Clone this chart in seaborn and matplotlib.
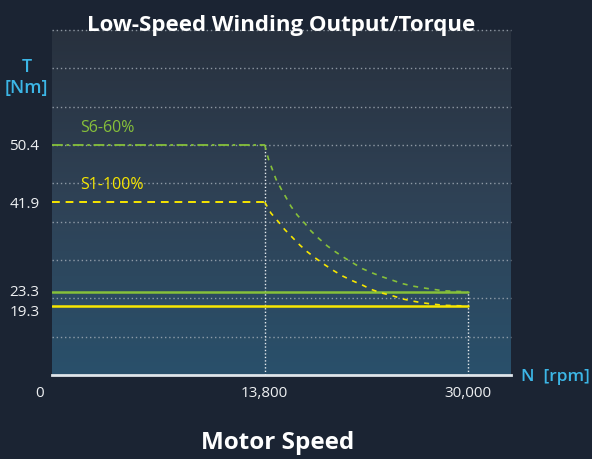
import numpy as np
import matplotlib
matplotlib.use("Agg")
import matplotlib.pyplot as plt
import matplotlib.transforms as mtransforms
from matplotlib.colors import LinearSegmentedColormap
import seaborn as sns

sns.set_theme(style="white")
plt.rcParams['font.family'] = ['Open Sans', 'DejaVu Sans']

# --- data ---
speed_ticks = [0, 13800, 30000]
speed_labels = ['0', '13,800', '30,000']
torque_ticks = [50.4, 41.9, 23.3, 19.3]
torque_labels = ['50.4', '41.9', '23.3', '19.3']

base_speed = 13800
max_speed = 30000

s6_name = 'S6-60%'
s6_peak = 50.4
s6_cont = 23.3
s6_curve_n = [13800, 14100, 14400, 14700, 15100, 15500, 15900, 16400, 17000, 17500,
              18100, 18800, 19500, 20200, 20900, 21600, 22400, 23200, 24000, 24800,
              25600, 26500, 27300, 28100, 29000, 30000]
s6_curve_t = [50.4, 48.3, 46.8, 45.3, 43.9, 42.6, 41.0, 39.2, 37.5, 35.9,
              34.4, 32.8, 31.5, 30.3, 29.2, 28.1, 27.2, 26.4, 25.7, 25.0,
              24.5, 24.1, 23.8, 23.5, 23.4, 23.3]

s1_name = 'S1-100%'
s1_peak = 41.9
s1_cont = 19.3
s1_curve_n = [13800, 14300, 14900, 15400, 16000, 16600, 17200, 17900, 18600, 19300,
              20000, 20800, 21600, 22300, 23100, 24000, 24800, 25600, 26400, 27300,
              28100, 29000, 30000]
s1_curve_t = [41.9, 39.6, 37.8, 36.2, 34.6, 33.0, 31.6, 30.2, 28.9, 27.7,
              26.6, 25.6, 24.7, 23.8, 23.0, 22.2, 21.3, 20.7, 20.2, 19.8,
              19.5, 19.4, 19.3]

# --- colours ---
bg = '#1b2433'
green = '#86c03a'
yellow = '#f7e600'
cyan = '#3cb6e6'
tick_col = '#eef0f2'
grid_col = '#a7b0ba'

# schematic (piecewise linear) axes, as in the original drawing
x_knots = [-100000, 0, 13800, 30000, 100000]
x_pos = [-1538.4, 0, 212.3, 414.7, 1289.3]
y_knots = [-1000, 0, 19.3, 23.3, 41.9, 50.4, 67.4, 1000]
y_pos = [-93.3, 0, 1.8, 2.17, 4.51, 6.0, 9.0, 173.6]


def x_fwd(v):
    return np.interp(v, x_knots, x_pos)


def x_inv(p):
    return np.interp(p, x_pos, x_knots)


def y_fwd(v):
    return np.interp(v, y_knots, y_pos)


def y_inv(p):
    return np.interp(p, y_pos, y_knots)


fig = plt.figure(figsize=(5.92, 4.59), dpi=100, facecolor=bg)
ax = fig.add_axes([52 / 592, 1 - 375 / 459, 459 / 592, 345 / 459])
ax.set_facecolor('#2b3b4c')

x_max = 33470
y_max = 67.4

# gradient background of the plot area
cmap = LinearSegmentedColormap.from_list('bg', ['#29506b', '#2f4256', '#28313e'])
grad = np.linspace(0, 1, 256).reshape(-1, 1)
ax.imshow(grad, extent=[0, 1, 0, 1], transform=ax.transAxes, origin='lower',
          cmap=cmap, aspect='auto', zorder=0)

ax.set_xscale('function', functions=(x_fwd, x_inv))
ax.set_yscale('function', functions=(y_fwd, y_inv))
ax.set_xlim(0, x_max)
ax.set_ylim(0, y_max)

# dotted grid, evenly spaced in the drawing
grid_vals = y_inv(np.arange(1, 10))
ax.hlines(grid_vals, 0, x_max, colors=grid_col, linestyles=(0, (1, 2)),
          linewidth=1, alpha=0.8, zorder=1, clip_on=False)

# vertical markers at base and max speed
ax.vlines(base_speed, 0, s6_peak, colors='#e8ecef', linestyles=(0, (1, 1.5)),
          linewidth=1, zorder=2)
ax.vlines(max_speed, 0, s6_cont, colors='#e8ecef', linestyles=(0, (1, 1.5)),
          linewidth=1, zorder=2)

# S6 curve
sns.lineplot(x=[0, base_speed], y=[s6_peak, s6_peak], ax=ax, color=green,
             linewidth=1.3, linestyle=(0, (6, 2, 1.5, 2)), zorder=3)
sns.lineplot(x=s6_curve_n, y=s6_curve_t, ax=ax, color=green,
             linewidth=1.2, linestyle=(0, (3, 3.5)), zorder=3)
sns.lineplot(x=[0, max_speed], y=[s6_cont, s6_cont], ax=ax, color=green,
             linewidth=1.8, zorder=3)

# S1 curve
sns.lineplot(x=[0, base_speed], y=[s1_peak, s1_peak], ax=ax, color=yellow,
             linewidth=1.4, linestyle=(0, (4, 3)), zorder=3)
sns.lineplot(x=s1_curve_n, y=s1_curve_t, ax=ax, color=yellow,
             linewidth=1.2, linestyle=(0, (3, 3.5)), zorder=3)
sns.lineplot(x=[0, max_speed], y=[s1_cont, s1_cont], ax=ax, color=yellow,
             linewidth=1.8, zorder=3)

ax.text(0.061, 0.716, s6_name, transform=ax.transAxes, color=green,
        fontsize=11.5, va='center', ha='left')
ax.text(0.061, 0.551, s1_name, transform=ax.transAxes, color=yellow,
        fontsize=11.5, va='center', ha='left')

# axes styling
for side in ['left', 'top', 'right']:
    ax.spines[side].set_visible(False)
ax.spines['bottom'].set_color('#dfe5ea')
ax.spines['bottom'].set_linewidth(2)
ax.spines['bottom'].set_zorder(4)

ax.set_xticks(speed_ticks, speed_labels)
ax.set_yticks(torque_ticks, torque_labels)
ax.minorticks_off()
ax.tick_params(axis='both', length=0, colors=tick_col, labelsize=11)
ax.tick_params(axis='y', pad=9)
ax.tick_params(axis='x', pad=8)
ax.set_xlabel('')
ax.set_ylabel('')
ax.grid(False)

# small nudges of labels as in the original
xt = ax.xaxis.get_major_ticks()
xt[0].label1.set_transform(xt[0].label1.get_transform()
                           + mtransforms.ScaledTranslation(-12 / 100, 0, fig.dpi_scale_trans))
yt = ax.yaxis.get_major_ticks()
yt[2].label1.set_transform(yt[2].label1.get_transform()
                           + mtransforms.ScaledTranslation(0, 1.5 / 100, fig.dpi_scale_trans))
yt[3].label1.set_transform(yt[3].label1.get_transform()
                           + mtransforms.ScaledTranslation(0, -4 / 100, fig.dpi_scale_trans))

# titles and axis names
fig.text(281 / 592, 1 - 26 / 459, 'Low-Speed Winding Output/Torque', color='white',
         fontsize=16, fontweight='bold', ha='center', va='center')
fig.text(278 / 592, 1 - 443 / 459, 'Motor Speed', color='white',
         fontsize=17.5, fontweight='bold', ha='center', va='center')
fig.text(27 / 592, 1 - 67 / 459, 'T', color=cyan, fontsize=13,
         fontweight='semibold', ha='center', va='center')
fig.text(26 / 592, 1 - 88 / 459, '[Nm]', color=cyan, fontsize=13,
         fontweight='semibold', ha='center', va='center')
fig.text(555 / 592, 1 - 377 / 459, 'N  [rpm]', color=cyan, fontsize=12.5,
         fontweight='semibold', ha='center', va='center')

fig.savefig('out.png', dpi=100, facecolor=bg)
